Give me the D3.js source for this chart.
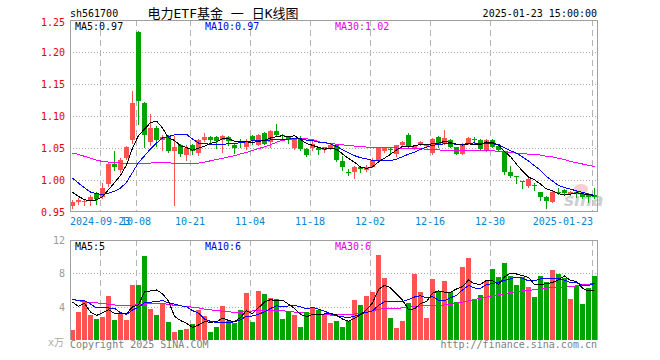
<!DOCTYPE html>
<html>
<head>
<meta charset="utf-8">
<script src="https://cdn.jsdelivr.net/npm/d3@7"></script>
<style>
  body { margin: 0; background: #fff; }
  svg text { font-family: "DejaVu Sans Mono", "Liberation Mono", "Noto Sans CJK SC", monospace; font-size: 10px; }
</style>
</head>
<body>
<svg id="chart" width="660" height="360"></svg>
<script>
// trading days shown on the chart
var dates = ['2024-09-12','2024-09-13','2024-09-18','2024-09-19','2024-09-20','2024-09-23','2024-09-24','2024-09-25','2024-09-26','2024-09-27','2024-09-30',
  '2024-10-08','2024-10-09','2024-10-10','2024-10-11','2024-10-14','2024-10-15','2024-10-16','2024-10-17','2024-10-18','2024-10-21','2024-10-22','2024-10-23','2024-10-24','2024-10-25','2024-10-28','2024-10-29','2024-10-30','2024-10-31',
  '2024-11-01','2024-11-04','2024-11-05','2024-11-06','2024-11-07','2024-11-08','2024-11-11','2024-11-12','2024-11-13','2024-11-14','2024-11-15','2024-11-18','2024-11-19','2024-11-20','2024-11-21','2024-11-22','2024-11-25','2024-11-26','2024-11-27','2024-11-28','2024-11-29',
  '2024-12-02','2024-12-03','2024-12-04','2024-12-05','2024-12-06','2024-12-09','2024-12-10','2024-12-11','2024-12-12','2024-12-13','2024-12-16','2024-12-17','2024-12-18','2024-12-19','2024-12-20','2024-12-23','2024-12-24','2024-12-25','2024-12-26','2024-12-27','2024-12-30','2024-12-31',
  '2025-01-02','2025-01-03','2025-01-06','2025-01-07','2025-01-08','2025-01-09','2025-01-10','2025-01-13','2025-01-14','2025-01-15','2025-01-16','2025-01-17','2025-01-20','2025-01-21','2025-01-22','2025-01-23'];

var open = [0.959,0.966,0.966,0.967,0.979,0.974,0.993,1.025,1.016,1.035,
  1.062,1.232,1.120,1.059,1.082,1.063,1.068,1.046,1.054,1.039,
  1.054,1.042,1.062,1.067,1.067,1.062,1.067,1.054,1.059,1.052,
  1.069,1.055,1.074,1.059,1.077,1.071,1.067,1.050,1.065,1.049,
  1.050,1.050,1.047,1.050,1.054,1.029,1.013,1.013,1.021,1.015,
  1.021,1.031,1.046,1.049,1.040,1.055,1.071,1.050,1.055,1.053,
  1.042,1.067,1.057,1.063,1.051,1.041,1.057,1.064,1.063,1.047,
  1.063,1.053,1.044,1.012,1.006,0.998,0.990,0.992,0.981,0.974,
  0.966,0.982,0.985,0.978,0.981,0.978,0.976,0.977];
var high = [0.968,0.972,0.968,0.976,0.981,0.995,1.026,1.046,1.034,1.053,
  1.139,1.233,1.122,1.103,1.084,1.071,1.070,1.068,1.056,1.055,
  1.057,1.064,1.074,1.068,1.068,1.070,1.068,1.056,1.064,1.064,
  1.070,1.072,1.075,1.078,1.088,1.072,1.068,1.066,1.069,1.050,
  1.062,1.051,1.052,1.056,1.055,1.037,1.017,1.022,1.022,1.023,
  1.034,1.051,1.051,1.051,1.055,1.061,1.073,1.054,1.061,1.055,
  1.065,1.068,1.078,1.064,1.052,1.058,1.067,1.067,1.064,1.064,
  1.064,1.054,1.045,1.022,1.007,0.999,1.004,0.996,0.982,0.975,
  0.983,0.988,0.986,0.983,0.984,0.979,0.979,0.987];
var low = [0.957,0.962,0.961,0.961,0.962,0.972,0.991,1.016,1.013,1.033,
  1.058,1.088,1.052,1.054,1.053,1.047,1.044,0.961,1.038,1.031,
  1.040,1.039,1.061,1.058,1.050,1.043,1.054,1.042,1.052,1.049,
  1.056,1.054,1.056,1.052,1.070,1.066,1.058,1.049,1.047,1.038,
  1.047,1.040,1.044,1.049,1.030,1.015,1.008,1.003,1.013,1.014,
  1.020,1.030,1.043,1.042,1.038,1.054,1.050,1.049,1.054,1.051,
  1.041,1.052,1.056,1.051,1.040,1.040,1.056,1.058,1.047,1.046,
  1.051,1.046,1.010,1.005,0.995,0.988,0.989,0.984,0.969,0.956,
  0.965,0.978,0.977,0.976,0.974,0.972,0.966,0.972];
var close = [0.965,0.968,0.967,0.974,0.971,0.988,1.025,1.021,1.032,1.051,
  1.120,1.124,1.071,1.082,1.063,1.067,1.046,1.051,1.040,1.050,
  1.045,1.062,1.067,1.063,1.061,1.069,1.061,1.050,1.058,1.060,
  1.063,1.071,1.057,1.077,1.071,1.070,1.063,1.065,1.048,1.039,
  1.056,1.047,1.051,1.055,1.031,1.020,1.012,1.021,1.017,1.021,
  1.032,1.050,1.050,1.048,1.054,1.060,1.051,1.053,1.060,1.054,
  1.064,1.057,1.066,1.052,1.041,1.057,1.066,1.063,1.048,1.063,
  1.052,1.047,1.013,1.007,1.005,0.997,1.001,0.991,0.974,0.967,
  0.982,0.980,0.979,0.981,0.978,0.974,0.973,0.974];
// closes of the nine sessions before the window (for MA5 / MA10)
var prevClose = [1.047,1.041,1.039,0.995,1.003,1.002,0.991,0.984,0.963];
// MA30
var ma30 = [1.042,1.040,1.037,1.034,1.031,1.029,1.028,1.027,1.0265,1.026,
  1.0255,1.0255,1.026,1.0265,1.027,1.0275,1.027,1.026,1.0255,1.0258,
  1.026,1.0265,1.028,1.030,1.032,1.034,1.036,1.038,1.041,1.043,
  1.046,1.049,1.052,1.055,1.059,1.062,1.0635,1.064,1.0645,1.0645,
  1.063,1.060,1.058,1.057,1.056,1.055,1.054,1.053,1.052,1.0515,
  1.051,1.051,1.0505,1.0505,1.050,1.050,1.0495,1.049,1.049,1.048,
  1.047,1.047,1.0465,1.0465,1.046,1.046,1.046,1.046,1.0458,1.0456,
  1.0455,1.045,1.0445,1.043,1.042,1.041,1.0405,1.040,1.039,1.037,
  1.036,1.034,1.032,1.029,1.027,1.025,1.023,1.021];

// volume, in 10k lots
var volume = [1.2,3.36,4.65,3.0,2.52,2.76,5.28,2.4,3.12,2.4,
  6.6,6.6,10.08,3.72,3.0,4.36,2.16,0.96,1.2,1.32,
  1.92,3.6,2.88,0.96,1.56,4.08,2.28,2.04,3.6,5.64,
  2.16,5.88,5.52,5.04,4.92,2.52,3.48,3.0,1.56,3.36,
  3.96,3.6,3.12,2.04,2.28,1.56,2.28,4.8,4.2,5.28,
  5.76,10.2,7.44,2.64,1.44,2.28,4.44,7.92,5.76,2.64,
  7.32,5.88,7.08,5.76,4.56,8.76,9.84,4.8,5.4,7.08,
  8.52,7.56,9.24,7.68,6.6,7.56,6.36,5.16,7.68,6.96,
  8.4,7.92,7.44,4.92,6.48,4.32,6.24,7.68];
var prevVolume = [5.36,4.65,7.0,7.32,2.07,5.96,2.85,8.2,4.59];
var volMa30 = [4.9,4.7,4.6,4.5,4.45,4.4,4.3,4.2,4.12,4.1,
  4.15,4.25,4.3,4.35,4.4,4.35,4.3,4.15,4.1,4.0,
  3.95,3.85,3.7,3.62,3.55,3.45,3.38,3.32,3.32,3.4,
  3.48,3.5,3.55,3.55,3.52,3.5,3.45,3.35,3.3,3.2,
  3.1,3.06,3.03,3.0,3.0,3.02,3.05,3.12,3.22,3.32,
  3.5,3.7,3.75,3.78,3.8,3.85,3.92,4.0,4.08,4.12,
  4.15,4.18,4.2,4.25,4.4,4.55,4.7,4.85,5.0,5.15,
  5.3,5.42,5.55,5.7,5.8,5.88,5.96,6.02,6.1,6.22,
  6.28,6.3,6.32,6.4,6.5,6.6,6.7,6.8];

var priceTicks = [0.95, 1.00, 1.05, 1.10, 1.15, 1.20, 1.25];
var volumeTicks = [4, 8, 12];
var dateTicks = ['2024-09-23','2024-10-08','2024-10-21','2024-11-04','2024-11-18','2024-12-02','2024-12-16','2024-12-30','2025-01-23'];

var UP = '#ff5252', DOWN = '#00a400', GRID = '#aaa', FRAME = '#a0a0a0';
var L = 70, R = 598;

var svg = d3.select('#chart');
var x = d3.scaleBand().domain(dates).range([L, R]);
var y = d3.scaleLinear().domain([0.95, 1.25]).range([212, 20]);
var yv = d3.scaleLinear().domain([0, 12]).range([340, 240]);

function movingAverage(prev, vals, n) {
  var all = prev.concat(vals), off = prev.length;
  return vals.map(function(v, i) {
    return d3.mean(all.slice(off + i - n + 1, off + i + 1));
  });
}
var ma5 = movingAverage(prevClose, close, 5);
var ma10 = movingAverage(prevClose, close, 10);
var vma5 = movingAverage(prevVolume, volume, 5);
var vma10 = movingAverage(prevVolume, volume, 10);

var px = function(v) { return Math.round(v) + 0.5; };
var idx = d3.range(dates.length);
var isUp = function(i) { return close[i] >= open[i]; };

// ---- grid ----
var grid = svg.append('g').attr('shape-rendering', 'crispEdges');
grid.selectAll('line.hp').data(priceTicks.slice(1, -1)).enter().append('line')
  .attr('x1', L).attr('x2', R).attr('y1', function(d) { return px(y(d)); }).attr('y2', function(d) { return px(y(d)); })
  .attr('stroke', GRID).attr('stroke-dasharray', '1,2');
grid.selectAll('line.hv').data(volumeTicks.slice(0, -1)).enter().append('line')
  .attr('x1', L).attr('x2', R).attr('y1', function(d) { return px(yv(d)); }).attr('y2', function(d) { return px(yv(d)); })
  .attr('stroke', GRID).attr('stroke-dasharray', '1,2');
[[20, 212], [240, 340]].forEach(function(span) {
  grid.selectAll(null).data(dateTicks).enter().append('line')
    .attr('x1', function(d) { return px(x(d)); }).attr('x2', function(d) { return px(x(d)); })
    .attr('y1', span[0]).attr('y2', span[1])
    .attr('stroke', '#b4b4b4').attr('stroke-dasharray', '6,4');
});

// ---- watermark ----
svg.append('ellipse').attr('cx', 581).attr('cy', 189).attr('rx', 7).attr('ry', 5)
  .attr('fill', '#f3b0b0').attr('opacity', 0.6);
svg.append('text').attr('x', 564).attr('y', 206).text('sina')
  .style('font-family', '"DejaVu Sans", sans-serif').style('font-size', '17px')
  .style('font-style', 'italic').style('font-weight', 'bold').attr('fill', '#cfcfcf');

// ---- candles ----
var candles = svg.append('g').attr('shape-rendering', 'crispEdges');
candles.selectAll('line').data(idx).enter().append('line')
  .attr('x1', function(i) { return x(dates[i]) + 2.5; })
  .attr('x2', function(i) { return x(dates[i]) + 2.5; })
  .attr('y1', function(i) { return Math.round(y(high[i])); })
  .attr('y2', function(i) { return Math.round(y(low[i])) + 1; })
  .attr('stroke', function(i) { return isUp(i) ? UP : DOWN; });
candles.selectAll('rect').data(idx).enter().append('rect')
  .attr('x', function(i) { return x(dates[i]); })
  .attr('width', x.bandwidth() - 1)
  .attr('y', function(i) { return Math.round(y(Math.max(open[i], close[i]))); })
  .attr('height', function(i) {
    return Math.max(1, Math.round(y(Math.min(open[i], close[i]))) - Math.round(y(Math.max(open[i], close[i]))));
  })
  .attr('fill', function(i) { return isUp(i) ? UP : DOWN; });

// ---- volume bars ----
svg.append('g').attr('shape-rendering', 'crispEdges')
  .selectAll('rect').data(idx).enter().append('rect')
  .attr('x', function(i) { return x(dates[i]); })
  .attr('width', x.bandwidth() - 1)
  .attr('y', function(i) { return Math.round(yv(volume[i])); })
  .attr('height', function(i) { return 340 - Math.round(yv(volume[i])); })
  .attr('fill', function(i) { return isUp(i) ? UP : DOWN; });

// ---- moving average lines ----
function maLine(scale) {
  return d3.line().x(function(d, i) { return x(dates[i]) + 2.5; }).y(function(d) { return scale(d); });
}
[[ma30, '#ff00ff'], [ma10, '#0000ff'], [ma5, '#000']].forEach(function(s) {
  svg.append('path').datum(s[0]).attr('d', maLine(y)).attr('fill', 'none')
    .attr('stroke', s[1]).attr('stroke-width', 1).attr('shape-rendering', 'crispEdges');
});
[[volMa30, '#ff00ff'], [vma10, '#0000ff'], [vma5, '#000']].forEach(function(s) {
  svg.append('path').datum(s[0]).attr('d', maLine(yv)).attr('fill', 'none')
    .attr('stroke', s[1]).attr('stroke-width', 1).attr('shape-rendering', 'crispEdges');
});

// ---- frames ----
var frame = svg.append('g').attr('stroke', FRAME).attr('shape-rendering', 'crispEdges');
frame.append('path').attr('fill', 'none').attr('d', 'M70.5,212V20.5H597.5V212M70,211.5H598');
frame.append('path').attr('fill', 'none').attr('d', 'M70.5,340V240.5H597.5V340');

// ---- axis labels ----
svg.selectAll('text.py').data(priceTicks).enter().append('text')
  .attr('x', 65).attr('y', function(d) { return Math.max(22, y(d) + 0.5); })
  .attr('text-anchor', 'end').attr('dy', '0.35em').attr('fill', '#e80000')
  .text(function(d) { return d.toFixed(2); });
svg.selectAll('text.vy').data(volumeTicks).enter().append('text')
  .attr('x', 65).attr('y', function(d) { return yv(d) + 0.5; })
  .attr('text-anchor', 'end').attr('dy', '0.35em').attr('fill', '#999')
  .text(function(d) { return d; });
svg.append('text').attr('x', 64).attr('y', 342).attr('dy', '0.35em').attr('text-anchor', 'end')
  .attr('fill', '#aaa').text('x万');

var CW = 6.02;
svg.selectAll('text.dx').data(dateTicks).enter().append('text')
  .attr('x', function(d, i) {
    var s = (i === 0 || i === dateTicks.length - 1) ? d : d.slice(5);
    var w = s.length * CW;
    return Math.min(Math.max(x(d) - w / 2, L), 593 - w);
  })
  .attr('y', 225).attr('fill', '#0a84d2')
  .text(function(d, i) { return (i === 0 || i === dateTicks.length - 1) ? d : d.slice(5); });

// ---- header / legends ----
var fmt2 = function(v) { return (Math.floor(v * 100 + 1e-6) / 100).toFixed(2); };
var last = dates.length - 1;
svg.append('text').attr('x', 70).attr('y', 17).text('sh561700');
svg.append('text').attr('x', 223).attr('y', 18).attr('text-anchor', 'middle')
  .style('font-size', '13px').text('电力ETF基金 一 日K线图');
svg.append('text').attr('x', 597).attr('y', 17).attr('text-anchor', 'end').text('2025-01-23 15:00:00');

var legends = [
  [75, 30, '#000', 'MA5:' + fmt2(ma5[last])],
  [205, 30, '#0000e6', 'MA10:' + fmt2(ma10[last])],
  [335, 30, '#e600e6', 'MA30:' + fmt2(ma30[last])],
  [75, 250, '#000', 'MA5:' + Math.floor(vma5[last])],
  [205, 250, '#0000e6', 'MA10:' + Math.floor(vma10[last])],
  [335, 250, '#e600e6', 'MA30:' + Math.floor(volMa30[last])]
];
svg.selectAll('text.lg').data(legends).enter().append('text')
  .attr('x', function(d) { return d[0]; }).attr('y', function(d) { return d[1]; })
  .attr('fill', function(d) { return d[2]; }).text(function(d) { return d[3]; });

svg.append('text').attr('x', 70).attr('y', 348).attr('fill', '#808080').text('Copyright 2025 SINA.COM');
svg.append('text').attr('x', 597).attr('y', 348).attr('text-anchor', 'end').attr('fill', '#808080').text('http://finance.sina.com.cn');
</script>
</body>
</html>
